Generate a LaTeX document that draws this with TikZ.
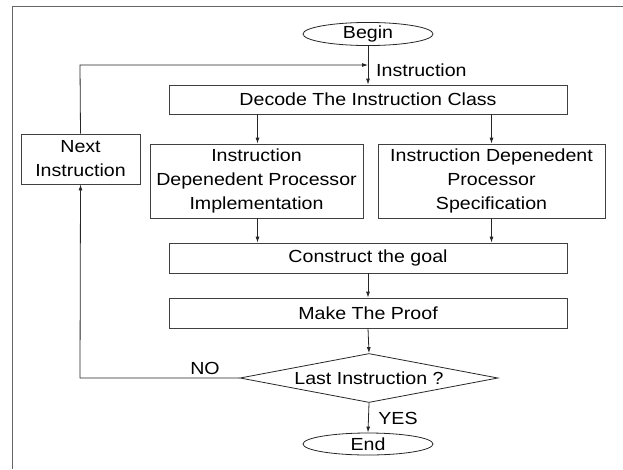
\documentclass[tikz,border=0pt]{standalone}
\usepackage{fontspec}
\setmainfont{Liberation Sans}[FakeStretch=1.12]
\usetikzlibrary{arrows.meta,shapes.geometric}
\begin{document}
\begin{tikzpicture}[x=1pt,y=-1pt,
  font=\fontsize{17.5}{24}\selectfont,
  line/.style={draw=black!85, line width=0.8pt},
  arr/.style={line, -{Latex[length=6pt,width=4pt]}},
  box/.style={draw=black!75, line width=0.8pt, rectangle, inner sep=0pt, align=center},
  oval/.style={draw=black!85, line width=0.8pt, ellipse, inner sep=0pt, minimum width=130pt, minimum height=22pt},
  decision/.style={draw=black!85, line width=0.8pt, diamond, aspect=5.27, inner sep=0pt, minimum width=258pt, minimum height=49pt},
  lbl/.style={inner sep=0pt}]
\useasboundingbox (0,0) rectangle (623,469);
% frame
\draw[draw=black!60, line width=0.8pt] (12,469) -- (12,6) -- (623,6);

\node[oval] (begin) at (368,34) {Begin};
\node[box, minimum width=398pt, minimum height=29pt] (decode) at (368,99.5) {Decode The Instruction Class};
\node[box, minimum width=119pt, minimum height=50pt] (next) at (80.5,159) {Next\\Instruction};
\node[box, minimum width=213pt, minimum height=74pt] (impl) at (256.5,181) {Instruction\\Depenedent Processor\\Implementation};
\node[box, minimum width=227pt, minimum height=74pt] (spec) at (491.5,181) {Instruction Depenedent\\Processor\\Specification};
\node[box, minimum width=398pt, minimum height=30pt] (construct) at (368,258) {Construct the goal};
\node[box, minimum width=398pt, minimum height=30pt] (proof) at (368,313) {Make The Proof};
\node[decision] (last) at (369,378) {Last Instruction ?};
\node[oval] (end) at (368,444) {End};

\coordinate (join) at (368,65);
\coordinate (topleft) at (80,65);
\coordinate (botleft) at (80,378);

\node[lbl, anchor=west] (instr) at (376,70) {Instruction};
\node[lbl] (no) at (205,368) {NO};
\node[lbl] (yes) at (398,418) {YES};

% connectors
\draw[arr] (begin.south) -- (decode.north);
\draw[arr] (next.north) -- (topleft) -- (join);
\draw[arr] (decode.south -| impl.north) ++(1,0) -- ([xshift=1pt]impl.north);
\draw[arr] (decode.south -| spec.north) -- (spec.north);
\draw[arr] ([xshift=1pt]impl.south) -- ([xshift=1pt]impl.south |- construct.north);
\draw[arr] (spec.south) -- (spec.south |- construct.north);
\draw[arr] (construct.south) -- (proof.north);
\draw[arr] (proof.south) -- (last.north);
\draw[arr] (last.west) -- (botleft) -- (next.south);
\draw[arr] (last.south) -- (end.north);
\end{tikzpicture}
\end{document}
